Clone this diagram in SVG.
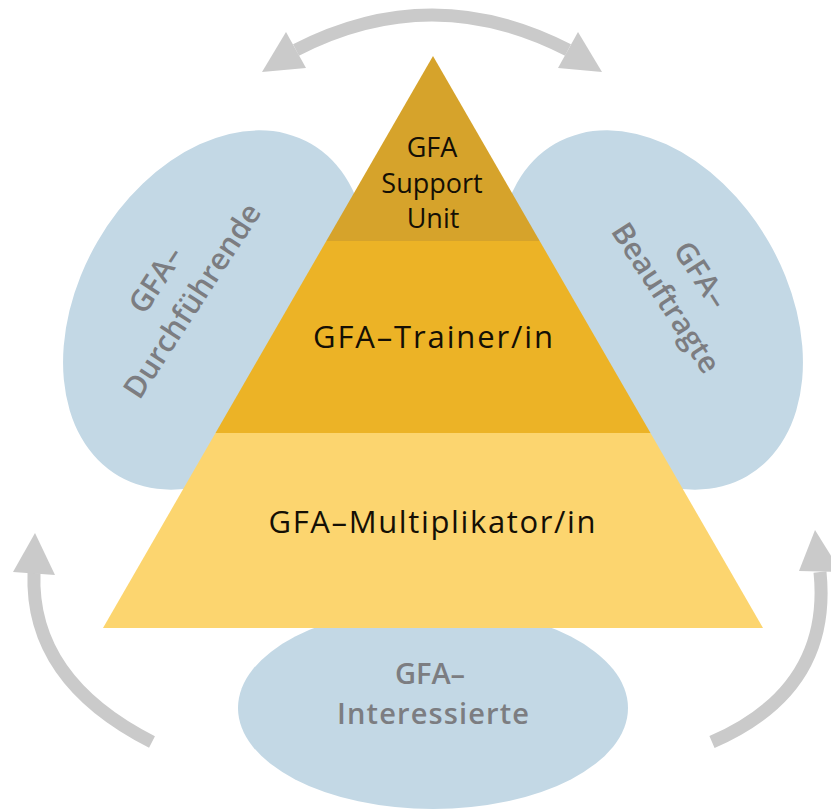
<svg xmlns="http://www.w3.org/2000/svg" width="831" height="810" viewBox="0 0 831 810">
  <style>
    .blob { fill: #C3D8E5; }
    .btxt { font-family: "Open Sans", "Liberation Sans", sans-serif; font-weight: 600; fill: #7C7D81; text-anchor: middle; }
    .ptxt { font-family: "Open Sans", "Liberation Sans", sans-serif; fill: #140F05; text-anchor: middle; }
    .shaft { fill: none; stroke: #CACACA; stroke-width: 13; }
    .head { fill: #CACACA; }
  </style>
  <rect width="831" height="810" fill="#FFFFFF"/>

  <g id="node-durchfuehrende">
    <ellipse class="blob" cx="215" cy="310" rx="192" ry="136" transform="rotate(-60 215 310)"/>
    <g transform="translate(174 289) rotate(-57)">
      <text class="btxt" x="-2" y="-10" font-size="30">GFA–</text>
      <text class="btxt" x="0" y="32" font-size="30" textLength="225">Durchführende</text>
    </g>
  </g>

  <g id="node-beauftragte">
    <ellipse class="blob" cx="651" cy="310" rx="192" ry="136" transform="rotate(60 651 310)"/>
    <g transform="translate(684 286) rotate(57)">
      <text class="btxt" x="0" y="-10" font-size="30">GFA–</text>
      <text class="btxt" x="0" y="32" font-size="30">Beauftragte</text>
    </g>
  </g>

  <g id="node-interessierte">
    <ellipse class="blob" cx="433" cy="708" rx="195" ry="101"/>
    <text class="btxt" x="430" y="684" font-size="29">GFA–</text>
    <text class="btxt" x="433" y="724" font-size="29" textLength="192">Interessierte</text>
  </g>

  <g id="node-multiplikator">
    <polygon points="215.5,433 650.5,433 763,628 103,628" fill="#FCD56F"/>
    <text class="ptxt" x="432" y="533" font-size="31" textLength="327">GFA–Multiplikator/in</text>
  </g>

  <g id="node-trainer">
    <polygon points="326.3,241 539.7,241 650.5,433 215.5,433" fill="#ECB326"/>
    <text class="ptxt" x="433" y="348" font-size="31" textLength="240">GFA–Trainer/in</text>
  </g>

  <g id="node-support">
    <polygon points="433,56 539.7,241 326.3,241" fill="#D6A32B"/>
    <text class="ptxt" x="432" y="157" font-size="27">GFA</text>
    <text class="ptxt" x="432" y="193" font-size="27">Support</text>
    <text class="ptxt" x="433" y="228" font-size="27">Unit</text>
  </g>

  <g id="connectors">
    <path class="shaft" d="M 296 50 Q 432 -20 568 50"/>
    <polygon class="head" points="262,72 286,32 306,68"/>
    <polygon class="head" points="602,72 578,32 558,68"/>

    <path class="shaft" d="M 152 742 Q 30 680 34 573"/>
    <polygon class="head" points="35,533 13,572 55,575"/>

    <path class="shaft" d="M 712 742 Q 832 690 820 572"/>
    <polygon class="head" points="815,530 799,571 841,572"/>
  </g>
</svg>
